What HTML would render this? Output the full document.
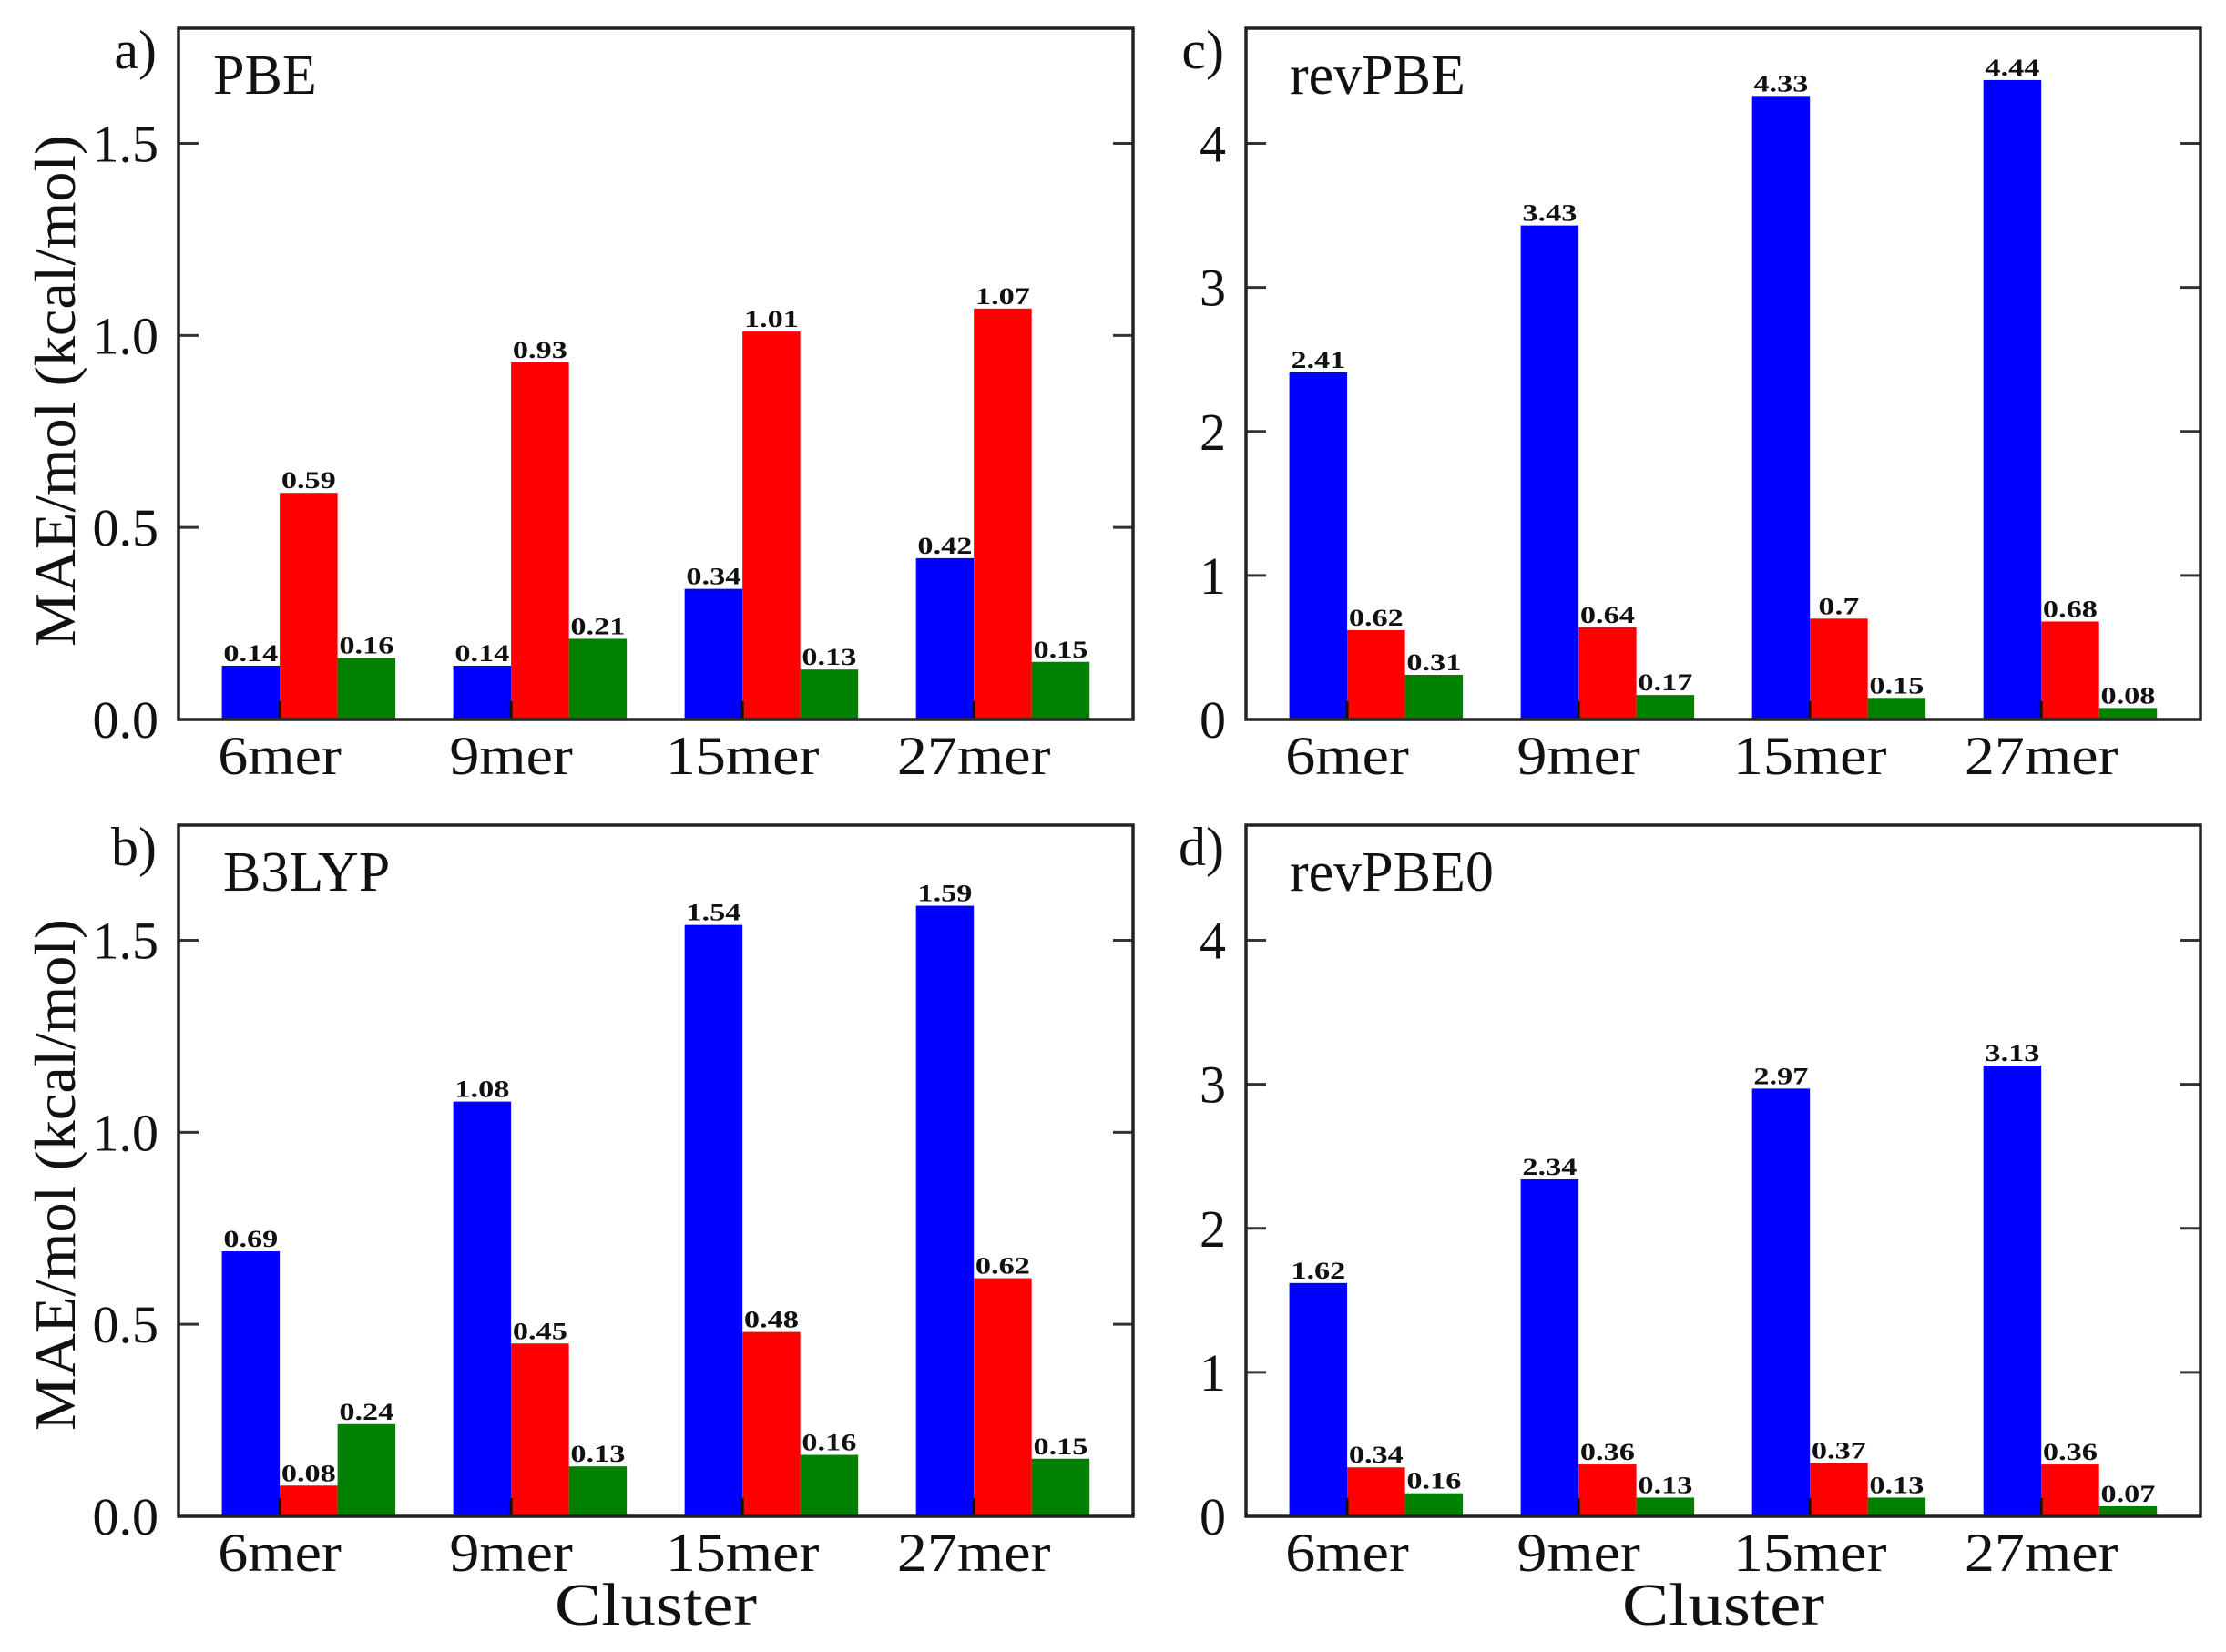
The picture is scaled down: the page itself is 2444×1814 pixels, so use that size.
<!DOCTYPE html>
<html><head><meta charset="utf-8"><style>
html,body{margin:0;padding:0;background:#fff;}
svg{display:block;}
text{font-family:"Liberation Serif","DejaVu Serif",serif;fill:#111;}
</style></head><body>
<svg id="fig" width="2444" height="1814" viewBox="0 0 2444 1814" xmlns="http://www.w3.org/2000/svg"></svg>
<script>
const categories = ["6mer","9mer","15mer","27mer"];
const panelTitles = ["PBE","B3LYP","revPBE","revPBE0"];
const panelLetters = ["a)","b)","c)","d)"];
const pbeBlue = [0.14,0.14,0.34,0.42];
const pbeRed = [0.59,0.93,1.01,1.07];
const pbeGreen = [0.16,0.21,0.13,0.15];
const b3lypBlue = [0.69,1.08,1.54,1.59];
const b3lypRed = [0.08,0.45,0.48,0.62];
const b3lypGreen = [0.24,0.13,0.16,0.15];
const revpbeBlue = [2.41,3.43,4.33,4.44];
const revpbeRed = [0.62,0.64,0.7,0.68];
const revpbeGreen = [0.31,0.17,0.15,0.08];
const revpbe0Blue = [1.62,2.34,2.97,3.13];
const revpbe0Red = [0.34,0.36,0.37,0.36];
const revpbe0Green = [0.16,0.13,0.13,0.07];
const smallTicks = [0,0.5,1.0,1.5];
const smallTickLabels = ["0.0","0.5","1.0","1.5"];
const bigTicks = [0,1,2,3,4];
const bigTickLabels = ["0","1","2","3","4"];
const seriesColors = ["#0000ff","#ff0000","#008000"];

const NS="http://www.w3.org/2000/svg";
const svg=document.getElementById('fig');
function mk(tag,attrs,parent){const e=document.createElementNS(NS,tag);for(const k in attrs)e.setAttribute(k,attrs[k]);(parent||svg).appendChild(e);return e;}

const panels=[
 {x0:196,x1:1244,y0:31,y1:790,ymax:1.8,ticks:smallTicks,labels:smallTickLabels,series:[pbeBlue,pbeRed,pbeGreen],title:0,name:'panel-a-pbe'},
 {x0:196,x1:1244,y0:906,y1:1665,ymax:1.8,ticks:smallTicks,labels:smallTickLabels,series:[b3lypBlue,b3lypRed,b3lypGreen],title:1,name:'panel-b-b3lyp'},
 {x0:1368,x1:2416,y0:31,y1:790,ymax:4.8,ticks:bigTicks,labels:bigTickLabels,series:[revpbeBlue,revpbeRed,revpbeGreen],title:2,name:'panel-c-revpbe'},
 {x0:1368,x1:2416,y0:906,y1:1665,ymax:4.8,ticks:bigTicks,labels:bigTickLabels,series:[revpbe0Blue,revpbe0Red,revpbe0Green],title:3,name:'panel-d-revpbe0'}
];
const seriesNames=['blue','red','green'];

panels.forEach((p,pi)=>{
  const g=mk('g',{});
  
  
  const W=p.x1-p.x0;
  const step=0.2424*W, start=0.106*W, bw=0.25*step;
  const xScale=i=>p.x0+start+i*step;
  const yScale=v=>p.y1-(v/p.ymax)*(p.y1-p.y0);
  p.series.forEach((vals,si)=>{
    vals.forEach((v,i)=>{
      const cx=xScale(i)+(si-0.5)*bw;
      const y=yScale(v);
      const r=mk('rect',{x:cx-bw/2,y:y,width:bw,height:p.y1-y,fill:seriesColors[si]},g);
      
      
      const s=String(v);
      const t=mk('text',{x:cx,y:y-5,'text-anchor':'middle','font-size':26,'font-weight':'bold',textLength:s.length*15,lengthAdjust:'spacingAndGlyphs'},g);
      t.textContent=s;
      
      
    });
  });
  categories.forEach((c,i)=>{
    const x=xScale(i);
    mk('line',{x1:x,x2:x,y1:p.y1,y2:p.y1-20,stroke:'#111','stroke-width':3},g);
    const t=mk('text',{x:x,y:p.y1+60,'text-anchor':'middle','font-size':60,transform:'translate('+x+',0) scale(1.1,1) translate('+(-x)+',0)'},g);
    t.textContent=c;
    
    
  });
  p.ticks.forEach((v,i)=>{
    const y=yScale(v);
    mk('line',{x1:p.x0,x2:p.x0+22,y1:y,y2:y,stroke:'#333','stroke-width':3},g);
    mk('line',{x1:p.x1,x2:p.x1-22,y1:y,y2:y,stroke:'#333','stroke-width':3},g);
    const t=mk('text',{x:p.x0-22,y:y+20,'text-anchor':'end','font-size':58},g);
    t.textContent=p.labels[i];
    
    
  });
  const f=mk('rect',{x:p.x0,y:p.y0,width:W,height:p.y1-p.y0,fill:'none',stroke:'#222','stroke-width':3.5},g);
  
  
  const tt=mk('text',{x:p.x0+(pi===1?49:(pi>=2?48:38)),y:p.y0+72,'font-size':62},g);
  tt.textContent=panelTitles[p.title];
  
  
  const tl=mk('text',{x:p.x0-24,y:p.y0+44,'text-anchor':'end','font-size':60},g);
  tl.textContent=panelLetters[pi];
  
  
});

[[429],[1290]].forEach((c,i)=>{
  const t=mk('text',{x:0,y:0,'text-anchor':'middle','font-size':64,textLength:562,lengthAdjust:'spacingAndGlyphs',transform:'translate(82,'+c[0]+') rotate(-90)'});
  t.textContent='MAE/mol (kcal/mol)';
  
  
});
[720,1892].forEach(x=>{
  const t=mk('text',{x:x,y:1784,'text-anchor':'middle','font-size':66,textLength:222,lengthAdjust:'spacingAndGlyphs'});
  t.textContent='Cluster';
  
  
});
</script>
</body></html>
